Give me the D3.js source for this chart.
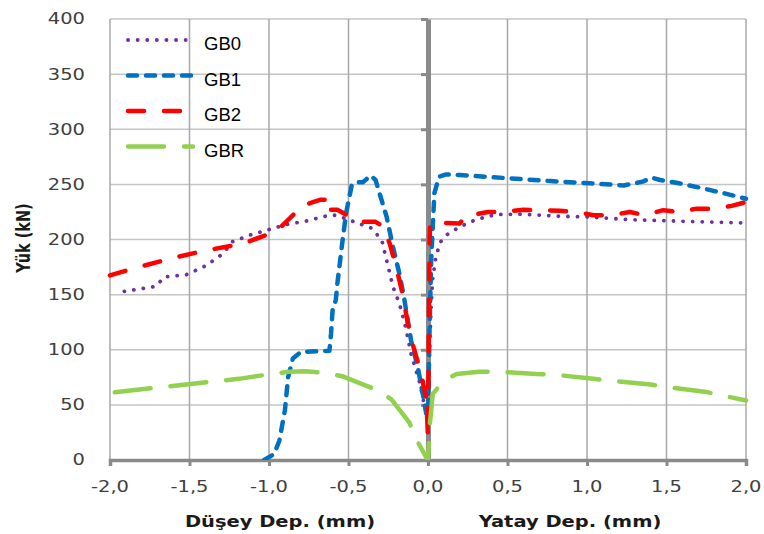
<!DOCTYPE html>
<html>
<head>
<meta charset="utf-8">
<script src="https://cdn.jsdelivr.net/npm/d3@7"></script>
<style>
body { margin: 0; background: #fff; }
</style>
</head>
<body>
<div id="graph"></div>
<script>
/*
    Data: [displacement (mm), load (kN)]
    left branch is the vertical displacement (negative), right one the horizontal
*/
var gb0 = [[-1.91,153],[-1.71,157.5],[-1.66,166],[-1.52,168],[-1.40,176],[-1.29,187],[-1.23,198],
    [-1.12,204],[-1.0,209],[-0.89,213.6],[-0.77,216.6],[-0.62,222],[-0.58,222],[-0.49,217.5],
    [-0.35,210],[-0.29,199],[-0.26,181],[-0.22,157],[-0.18,142],[-0.14,120],[-0.106,96],
    [-0.05,69],[-0.02,48],[0,40],[0.01,100],[0.02,140],[0.03,165],[0.05,185],[0.08,198],
    [0.115,204],[0.2,211.5],[0.3,218],[0.43,222.7],[0.58,223],[0.83,221],[1.0,220.5],
    [1.27,218],[1.58,216.6],[2.0,215]]

var gb1 = [[-1.03,0],[-0.967,5.5],[-0.935,17.5],[-0.90,45],[-0.88,75],[-0.85,92],[-0.80,98],
    [-0.62,99],[-0.61,114.5],[-0.60,136],[-0.58,145],[-0.57,160],[-0.54,196],[-0.515,224],
    [-0.48,249],[-0.46,252],[-0.41,252],[-0.36,258],[-0.33,254],[-0.305,242],[-0.26,220.5],
    [-0.22,193],[-0.18,169],[-0.148,145],[-0.106,108],[-0.064,84],[-0.033,60],[-0.011,42],
    [0,40],[0.01,120],[0.02,181],[0.04,242],[0.07,257],[0.115,259],[0.2,258.5],[0.51,255.5],
    [0.77,253],[1.02,251],[1.23,249],[1.35,252.5],[1.41,256],[1.46,254],[1.58,251],
    [1.71,247],[1.86,242],[2.0,237]]

var gb2 = [[-2.0,167.5],[-1.82,175],[-1.61,183],[-1.40,190],[-1.17,196],[-1.0,205],[-0.935,210],
    [-0.85,222],[-0.80,230],[-0.68,236],[-0.63,236],[-0.65,227],[-0.57,227],[-0.47,219],
    [-0.43,216],[-0.33,216],[-0.28,211.5],[-0.24,196],[-0.20,175],[-0.16,151],[-0.127,124],
    [-0.096,105],[-0.043,78],[-0.01,55],[0,20],[0.005,120],[0.01,200],[0.014,214.5],
    [0.093,215],[0.2,214.5],[0.23,220.5],[0.27,222],[0.377,225],[0.47,225],[0.6,227],
    [0.68,226.6],[0.83,226],[0.93,225],[1.04,222],[1.15,222],[1.27,225],[1.36,222],
    [1.48,226.6],[1.58,225],[1.69,228],[1.79,228],[1.91,230.5],[2.0,234]]

var gbr = [[-1.97,61.5],[-1.19,73.6],[-1.01,77.5],[-0.88,80],[-0.77,80.5],[-0.65,79],[-0.54,76],
    [-0.33,64],[-0.23,55],[-0.117,34],[-0.085,22],[-0.01,2],[0,0],[0.01,30],[0.03,60],
    [0.10,72],[0.18,78],[0.32,80],[0.45,80],[0.68,78],[0.79,77.5],[1.04,73.6],[1.15,72],
    [1.4,68.5],[1.51,66],[1.74,62],[1.85,58.5],[2.0,54]]

var seriesNames = ["GB0", "GB1", "GB2", "GBR"]
var xTicks = [-2, -1.5, -1, -0.5, 0, 0.5, 1, 1.5, 2]
var yTicks = [0, 50, 100, 150, 200, 250, 300, 350, 400]

/*
    Styles
*/
var styles = {
    GB0: {data: gb0, color: "#7030A0", width: 3.8, dash: "0.1,9.5"},
    GB1: {data: gb1, color: "#0070C0", width: 4.5, dash: "9,9"},
    GB2: {data: gb2, color: "#FF0000", width: 4.5, dash: "16,20"},
    GBR: {data: gbr, color: "#92D050", width: 4.5, dash: "36,20"}
}

var margin = {top: 19, right: 18, bottom: 74, left: 110},
    width = 764 - margin.left - margin.right,
    height = 534 - margin.top - margin.bottom

var stretch = 1.3 // the picture text is wider than plain glyphs

var svg = d3.select("#graph").append("svg")
    .attr("width", 764)
    .attr("height", 534)
    .append("g")
    .attr("transform", "translate(" + margin.left + "," + margin.top + ")")

var x = d3.scaleLinear().domain([-2, 2]).range([0, width]),
    y = d3.scaleLinear().domain([0, 400]).range([height, 0])

var fmt = d3.formatLocale({decimal: ",", thousands: ".", grouping: [3],
    currency: ["", ""], minus: "-"}).format(".1f")

// Grid
svg.append("g")
    .selectAll("line")
    .data(yTicks.filter(function(d) { return d > 0 }))
    .enter().append("line")
    .attr("x1", 0).attr("x2", width)
    .attr("y1", function(d) { return y(d) })
    .attr("y2", function(d) { return y(d) })
    .attr("stroke", "#c4c4c4")
    .attr("stroke-width", 1.5)

svg.append("g")
    .selectAll("line")
    .data(xTicks.filter(function(d) { return d != 0 }))
    .enter().append("line")
    .attr("x1", function(d) { return x(d) })
    .attr("x2", function(d) { return x(d) })
    .attr("y1", 0).attr("y2", height)
    .attr("stroke", "#a8a8a8")
    .attr("stroke-width", 1.5)

// Axes through zero
var xAxis = svg.append("g")
    .attr("transform", "translate(0," + height + ")")
    .call(d3.axisBottom(x).tickValues(xTicks).tickSize(6).tickFormat(""))
xAxis.select(".domain").attr("stroke", "#8a8a8a").attr("stroke-width", 3.5)
xAxis.selectAll(".tick line").attr("stroke", "#8a8a8a").attr("stroke-width", 3)

var yAxis = svg.append("g")
    .attr("transform", "translate(" + x(0) + ",0)")
    .call(d3.axisLeft(y).tickValues(yTicks).tickSize(7).tickSizeOuter(0).tickFormat(""))
yAxis.select(".domain").attr("stroke", "#8a8a8a").attr("stroke-width", 5)
yAxis.selectAll(".tick line").attr("stroke", "#8a8a8a").attr("stroke-width", 3)

// Tick labels
svg.append("g")
    .selectAll("text")
    .data(yTicks)
    .enter().append("text")
    .attr("transform", function(d) { return "translate(-25," + y(d) + ") scale(" + stretch + ",1)" })
    .attr("dy", "0.36em")
    .attr("text-anchor", "end")
    .style("font", "15px 'DejaVu Sans'")
    .attr("fill", "#404040")
    .text(function(d) { return d })

svg.append("g")
    .selectAll("text")
    .data(xTicks)
    .enter().append("text")
    .attr("transform", function(d) { return "translate(" + x(d) + "," + (height + 32) + ") scale(" + stretch + ",1)" })
    .attr("text-anchor", "middle")
    .style("font", "15px 'DejaVu Sans'")
    .attr("fill", "#404040")
    .text(function(d) { return fmt(d) })

// Axis titles
svg.append("text")
    .attr("transform", "translate(" + (280 - margin.left) + "," + (527 - margin.top) + ") scale(" + stretch + ",1)")
    .attr("text-anchor", "middle")
    .style("font", "bold 15px 'DejaVu Sans'")
    .attr("fill", "#1a1a1a")
    .text("Düşey Dep. (mm)")

svg.append("text")
    .attr("transform", "translate(" + (570 - margin.left) + "," + (527 - margin.top) + ") scale(" + stretch + ",1)")
    .attr("text-anchor", "middle")
    .style("font", "bold 15px 'DejaVu Sans'")
    .attr("fill", "#1a1a1a")
    .text("Yatay Dep. (mm)")

svg.append("text")
    .attr("transform", "translate(" + (23 - margin.left) + "," + (238 - margin.top) + ") rotate(-90) scale(1," + stretch + ")")
    .attr("text-anchor", "middle")
    .attr("dy", "0.35em")
    .style("font", "bold 14.5px 'DejaVu Sans'")
    .attr("fill", "#1a1a1a")
    .text("Yük (kN)")

// Lines
svg.append("clipPath").attr("id", "clip")
    .append("rect").attr("x", -3).attr("y", -3).attr("width", width + 6).attr("height", height + 3)

var line = d3.line()
    .x(function(d) { return x(d[0]) })
    .y(function(d) { return y(d[1]) })

seriesNames.forEach(function(name) {
    var s = styles[name]
    svg.append("path")
        .attr("clip-path", "url(#clip)")
        .attr("d", line(s.data))
        .attr("fill", "none")
        .attr("stroke", s.color)
        .attr("stroke-width", s.width)
        .attr("stroke-dasharray", s.dash)
        .attr("stroke-linecap", "round")
        .attr("stroke-linejoin", "round")
})

// Legend
var legend = svg.append("g")
    .attr("transform", "translate(" + (126 - margin.left) + "," + (40 - margin.top) + ")")

seriesNames.forEach(function(name, i) {
    var s = styles[name]
    legend.append("line")
        .attr("x1", 2).attr("x2", 67)
        .attr("y1", i * 35.5).attr("y2", i * 35.5)
        .attr("stroke", s.color)
        .attr("stroke-width", s.width)
        .attr("stroke-dasharray", s.dash)
        .attr("stroke-linecap", "round")
    legend.append("text")
        .attr("x", 78)
        .attr("y", i * 35.5 + 10)
        .style("font", "18.5px 'Liberation Sans'")
        .attr("fill", "#000")
        .text(name)
})
</script>
</body>
</html>
